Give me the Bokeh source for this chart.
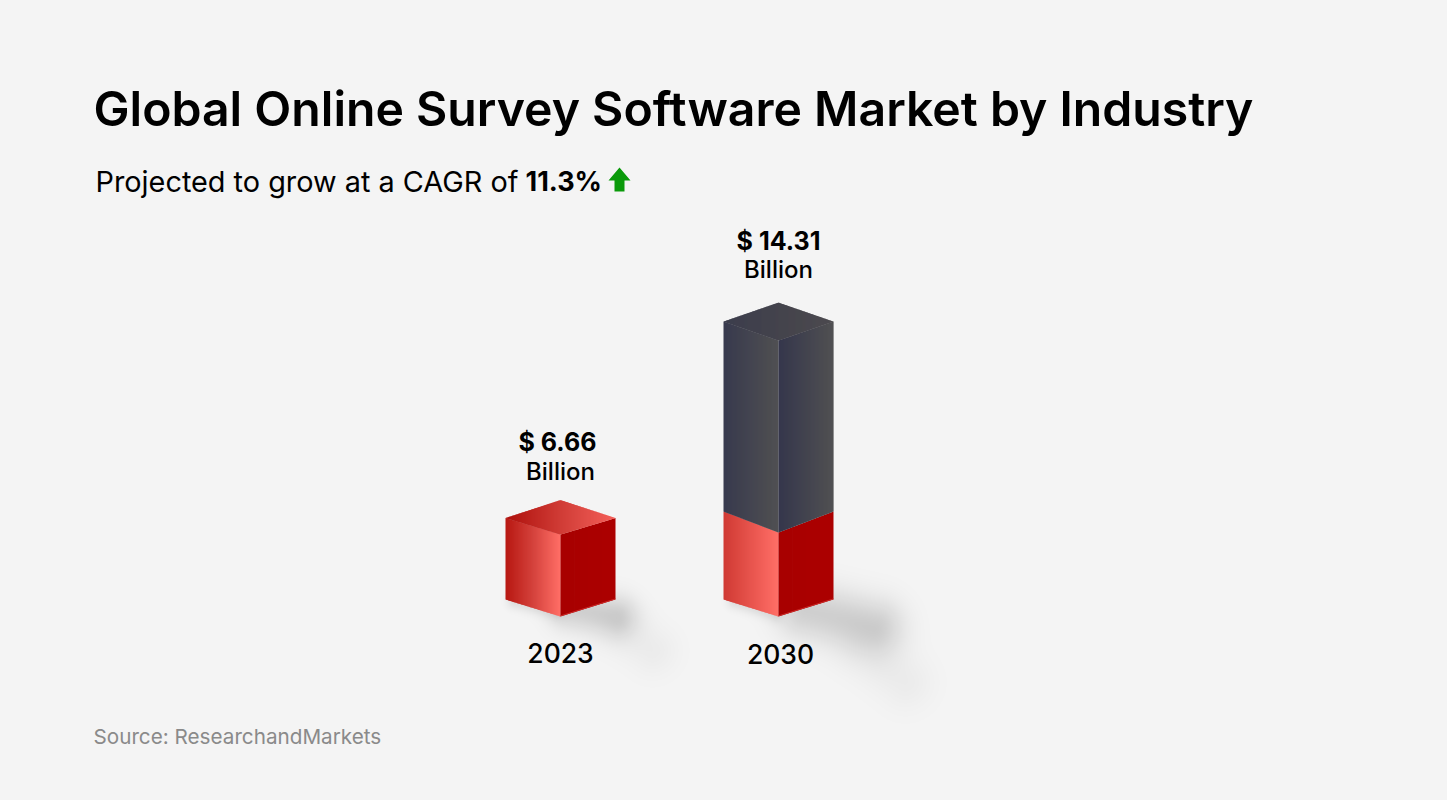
import numpy as np
from bokeh.plotting import figure
from bokeh.models import Range1d
from bokeh.core.properties import value
from bokeh.embed import file_html
from bokeh.resources import INLINE

# ---------- data ----------
title_text = "Global Online Survey Software Market by Industry"
subtitle_text = "Projected to grow at a CAGR of "
cagr_text = "11.3%"
source_text = "Source: ResearchandMarkets"
years = ["2023", "2030"]
amounts = ["$ 6.66", "$ 14.31"]
unit_label = "Billion"
# drawn heights of the segments, as pictured (the picture is not to scale)
red_heights = [6.66, 6.83]
dark_heights = [0.0, 15.6]

BG = "#f4f4f4"
PX_U = 218.0   # px per category step
PX_V = 12.3    # px per drawn unit
OX, OY = 560.0, 616.0   # page position of the first bar's front bottom corner


def U(px):
    return (px - OX) / PX_U


def V(py):
    return (OY - py) / PX_V


W, H = 1447, 800
p = figure(width=W, height=H, output_backend="svg", toolbar_location=None,
           x_range=Range1d(U(0), U(W)), y_range=Range1d(V(H), V(0)),
           min_border=0, background_fill_color=BG, border_fill_color=BG,
           outline_line_color=None)
p.axis.visible = False
p.grid.visible = False


# ---------- soft shadows ----------
def seg_gauss(X, Y, a, b, sigma, amp):
    ax, ay = a
    bx, by = b
    dx, dy = bx - ax, by - ay
    t = np.clip(((X - ax) * dx + (Y - ay) * dy) / (dx * dx + dy * dy), 0, 1)
    d2 = (X - ax - t * dx) ** 2 + (Y - ay - t * dy) ** 2
    return amp * np.exp(-d2 / (2 * sigma * sigma))


x0, x1, y0, y1 = 470, 960, 560, 730
X, Y = np.meshgrid(np.arange(x0, x1) + .5, np.arange(y0, y1) + .5)
al = np.zeros_like(X)
for a, b, s, am in [
    ((515, 600), (555, 610), 6, .10),
    ((570, 608), (615, 616), 15, .15),
    ((625, 630), (652, 650), 18, .035),
    ((735, 600), (775, 612), 6, .10),
    ((805, 610), (875, 626), 20, .15),
    ((865, 650), (905, 682), 20, .035),
]:
    al += seg_gauss(X, Y, a, b, s, am)
al = np.clip(al, 0, .3)
img = np.zeros(al.shape, dtype=np.uint32)
view = img.view(dtype=np.uint8).reshape(al.shape + (4,))
view[..., 3] = (al * 255).astype(np.uint8)
p.image_rgba(image=[img[::-1]], x=U(x0), y=V(y1), dw=(x1 - x0) / PX_U, dh=(y1 - y0) / PX_V)


# ---------- gradient faces ----------
def hexmix(c0, c1, t):
    a = np.array([int(c0[i:i + 2], 16) for i in (1, 3, 5)], float)
    b = np.array([int(c1[i:i + 2], 16) for i in (1, 3, 5)], float)
    m = a + (b - a) * t
    return "#%02x%02x%02x" % tuple(int(round(k)) for k in m)


HW = 55.0 / PX_U


def face(xs, upper, lower, stops, n):
    """Paint a face as thin vertical strips; stops = colours along x."""
    xs, upper, lower = map(np.asarray, (xs, upper, lower))
    e = np.linspace(xs[0], xs[-1], n + 1)
    overlap = 0.7 / PX_U
    px, py, col = [], [], []
    for i in range(n):
        a, b = e[i], min(e[i + 1] + overlap, e[-1])
        px.append([a, b, b, a])
        py.append([np.interp(a, xs, upper), np.interp(b, xs, upper),
                   np.interp(b, xs, lower), np.interp(a, xs, lower)])
        t = i / max(n - 1, 1) * (len(stops) - 1)
        k = min(int(t), len(stops) - 2)
        col.append(hexmix(stops[k], stops[k + 1], t - k))
    p.patches(px, py, fill_color=col, line_color=None)


SKEW_BOT = 17 / PX_V
cols = [0.0, 1.0]
for i, c in enumerate(cols):
    rh, dh = red_heights[i], dark_heights[i]
    has_dark = dh > 0
    sk_top_red = (21 if has_dark else 16.5) / PX_V
    # left / right red faces
    face([c - HW, c], [rh + sk_top_red, rh], [SKEW_BOT, 0],
         ["#d03a34", "#ff6f67"] if has_dark else ["#b81812", "#d4423c", "#ff6e66"], 55)
    face([c, c + HW], [rh, rh + sk_top_red], [0, SKEW_BOT], ["#a80000", "#ab0000"], 4)
    p.line([c, c + HW], [0.05, SKEW_BOT + .05], line_color="#cc2a28", line_width=1.0)
    if has_dark:
        t = rh + dh
        sk = 19 / PX_V
        face([c - HW, c], [t + sk, t], [rh + sk_top_red, rh], ["#383a4e", "#505052"], 55)
        face([c, c + HW], [t, t + sk], [rh, rh + sk_top_red], ["#35374c", "#505052"], 55)
        face([c - HW, c, c + HW], [t + sk, t + 2 * sk, t + sk], [t + sk, t, t + sk],
             ["#3c3d4c", "#4c4a4e"], 110)
    else:
        sk = sk_top_red
        face([c - HW, c, c + HW], [rh + sk, rh + 2 * sk + 1.5 / PX_V, rh + sk], [rh + sk, rh, rh + sk],
             ["#ae100c", "#d03c36", "#f4605a"], 110)

# ---------- arrow ----------
ax = [U(v) for v in (619, 630, 624, 624, 614, 614, 608)]
ay = [V(v) for v in (167, 180, 180, 191, 191, 180, 180)]
p.patch(ax, ay, fill_color="#0a9a0a", line_color=None)


# ---------- texts ----------
def txt(px, py, s, size, color="#000000", style="normal", align="left", font="Inter SemiBold"):
    p.text([U(px)], [V(py)], text=[s], text_font=value(font), text_font_size=f"{size}px",
           text_font_style=style, text_color=color, text_align=align, text_baseline="middle")


txt(93, 108, title_text, 48.15)
txt(95, 181, subtitle_text, 28.85, font="Inter")
txt(525, 181, cagr_text, 27, style="bold", font="Inter")
txt(93, 736, source_text, 20.7, color="#8a8a8a", font="Inter")

amount_px = [(557, 441), (778, 240)]
unit_px = [(560, 471), (778, 269)]
year_px = [(560, 652), (780, 653)]
for i in range(2):
    txt(*amount_px[i], amounts[i], 25, style="bold", align="center", font="Inter")
    txt(*unit_px[i], unit_label, 24, align="center", font="Inter Medium")
    txt(*year_px[i], years[i], 26.5, align="center", font="Inter Medium")

html = file_html(p, INLINE)
html = html.replace("</head>", f"<style>html,body{{margin:0;background:{BG};overflow:hidden}}</style></head>", 1)
open("out.html", "w").write(html)
